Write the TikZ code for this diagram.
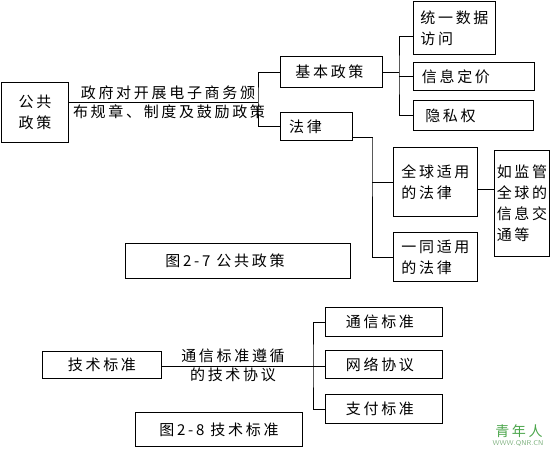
\documentclass[tikz,border=0pt]{standalone}
\usepackage{fontspec}
\newfontfamily\cjk[LetterSpace=18]{Noto Sans CJK SC}
\begin{document}
\begin{tikzpicture}[x=1pt,y=-1pt,
  box/.style={draw, line width=0.9pt, rectangle, inner sep=0pt, anchor=north west, align=left,
    font=\cjk\fontsize{15}{21}\selectfont},
  lbl/.style={inner sep=0pt, font=\cjk\fontsize{15}{21}\selectfont},
  conn/.style={line width=0.9pt}]
\fill[white] (0,0) rectangle (551,450);
\useasboundingbox (0,0) rectangle (551,450);
% top diagram
\node[box, minimum width=67pt, minimum height=60pt] (gg) at (1,82) {公共\\政策};
\node[box, minimum width=102pt, minimum height=31pt] (jb) at (280,56) {基本政策\hspace{4pt}};
\node[box, minimum width=72pt, minimum height=28pt] (fl) at (280,112) {法律\hspace{22pt}};
\node[box, minimum width=82pt, minimum height=53pt] (ty) at (413,1) {统一数据\\访问\hspace{36pt}};
\node[box, minimum width=121pt, minimum height=28pt] (xx) at (413,62) {信息定价\hspace{36pt}};
\node[box, minimum width=120pt, minimum height=30pt] (ys) at (413,100) {隐私权\hspace{46pt}};
\node[box, minimum width=84pt, minimum height=69pt] (qq) at (393,147) {全球适用\\的法律};
\node[box, minimum width=84pt, minimum height=49pt] (yt) at (393,232) {一同适用\\的法律};
\node[box, minimum width=55pt, minimum height=106pt] (rj) at (494,150) {如监管\\全球的\\信息交\\通等};
\node[box, minimum width=225pt, minimum height=35pt] (cap1) at (125,243) {图2-7 公共政策\hspace{26pt}};
\coordinate (ja) at (258,102);
\draw[conn] (gg.east |- ja) -- (ja);
\draw[conn] (jb.west) -| (ja) |- (fl.west);
\node[lbl, anchor=south] (t1) at (168,100) {政府对开展电子商务颁};
\node[lbl, anchor=north] (t2) at (169,104) {布规章、制度及鼓励政策};
\coordinate (jc) at (399,74);
\draw[conn] (jb.east) -- (jb.east -| jc);
\draw[conn] ([yshift=-8pt]ty.west) -| (jc) |- (ys.west);
\draw[conn] (jc |- xx.west) -- (xx.west);
\coordinate (jd) at (372,137);
\draw[conn] ([yshift=-11pt]fl.east) -| (jd) |- (yt.west);
\draw[conn] (jd |- qq.west) -- (qq.west);
\draw[conn] ([yshift=-7pt]qq.east) -- ([yshift=-7pt]qq.east -| rj.west);
% bottom diagram
\node[box, minimum width=119pt, minimum height=27pt] (js) at (42,351) {技术标准};
\node[box, minimum width=117pt, minimum height=29pt] (tx) at (325,307) {通信标准\hspace{8pt}};
\node[box, minimum width=117pt, minimum height=28pt] (wl) at (325,350) {网络协议\hspace{8pt}};
\node[box, minimum width=117pt, minimum height=29pt] (zf) at (325,394) {支付标准\hspace{8pt}};
\node[box, minimum width=167pt, minimum height=34pt] (cap2) at (135,412) {图2-8 技术标准};
\coordinate (je) at (313,366);
\draw[conn] (js.east |- je) -- (wl.west |- je);
\draw[conn] (tx.west) -| (je) |- (zf.west);
\node[lbl, anchor=south] (t3) at (233,363) {通信标准遵循};
\node[lbl, anchor=north] (t4) at (233,368) {的技术协议};
% watermark
\node[inner sep=0pt, text=green!50!black!70, font=\cjk\fontsize{14}{14}\selectfont] (wm1) at (519,431) {青年人};
\node[inner sep=0pt, text=green!40!black!50, font=\sffamily\fontsize{7}{7}\selectfont] (wm2) at (518,443) {WWW.QNR.CN};
\end{tikzpicture}
\end{document}
